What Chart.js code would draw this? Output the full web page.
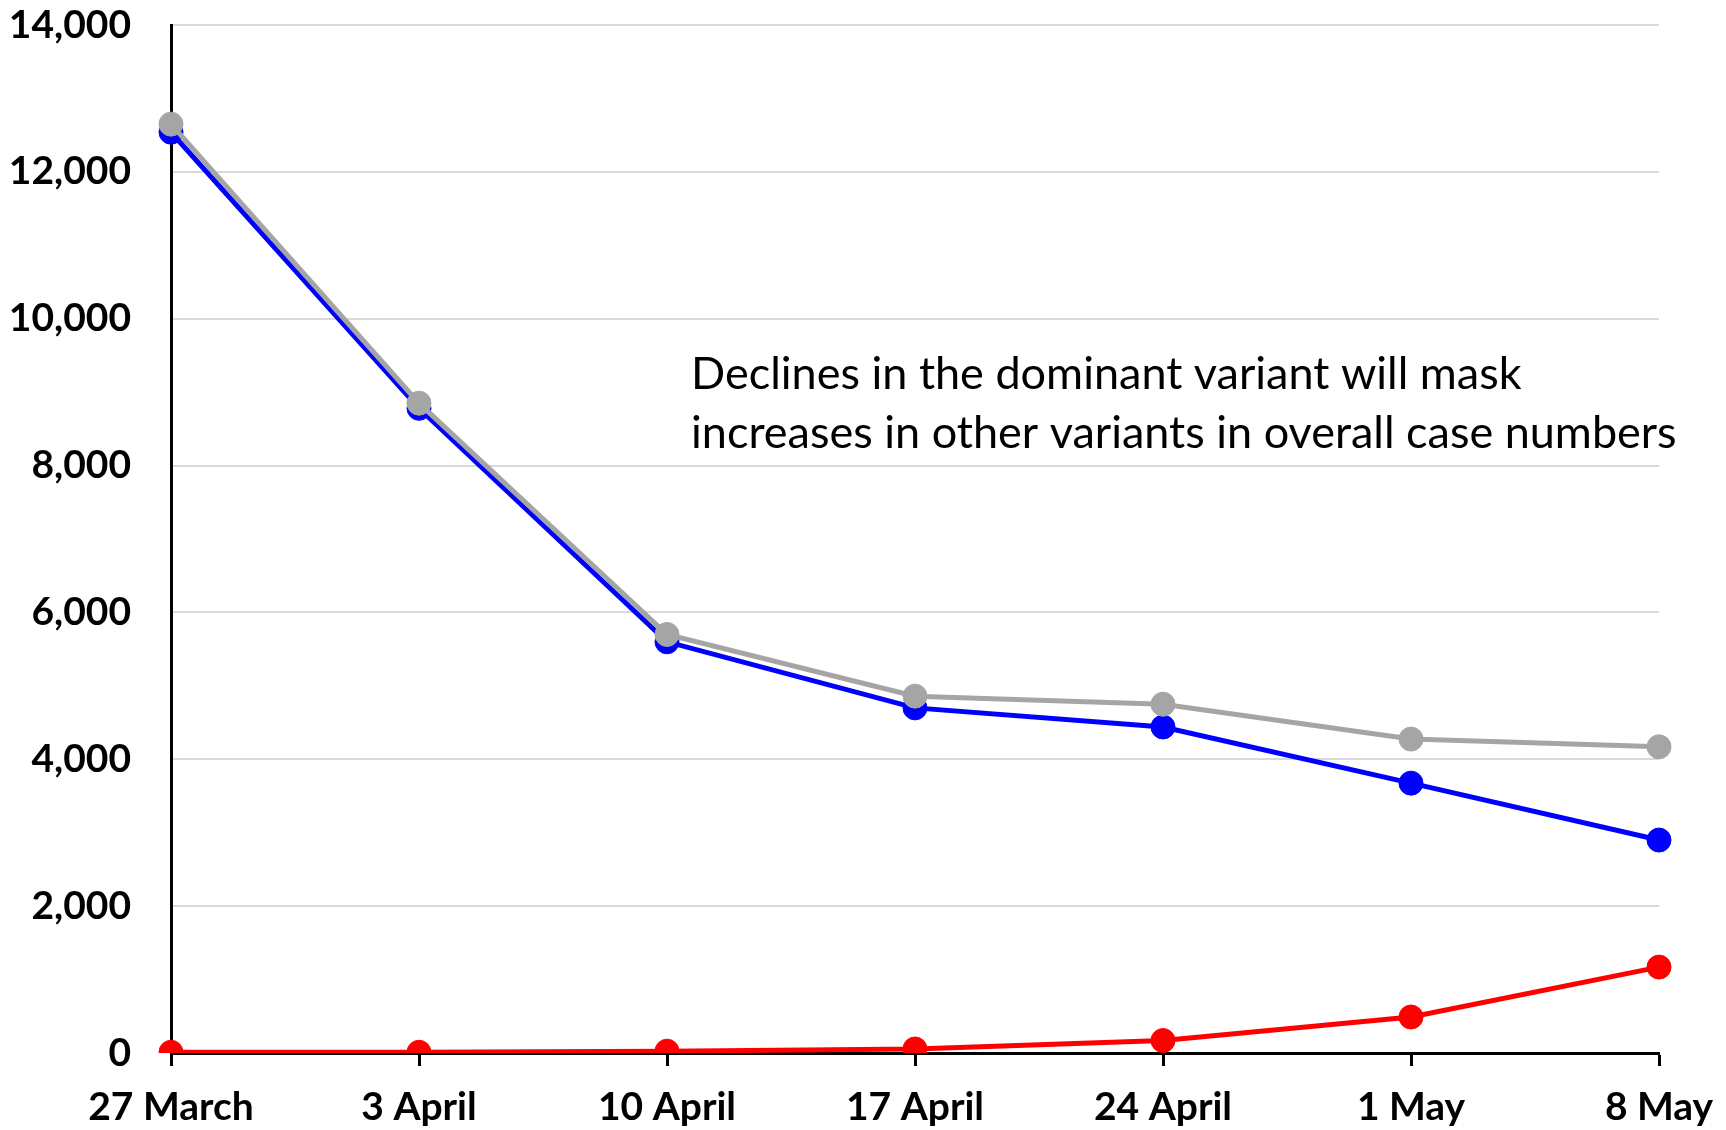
<html lang="en">
<head>
    <meta charset="UTF-8">
    <title>Variant case numbers</title>
    <script src="https://cdn.jsdelivr.net/npm/chart.js"></script>
    <style>
        body { margin: 0; background: #fff; }
        canvas { display: block; }
    </style>
</head>
<body>
    <canvas id="variantChart" width="1726" height="1130"></canvas>

    <script>
        // weekly dates
        const weeks = ['27 March', '3 April', '10 April', '17 April', '24 April', '1 May', '8 May'];
        // cases
        const totalCases = [12650, 8850, 5700, 4860, 4750, 4275, 4170];   // grey
        const dominantCases = [12540, 8780, 5600, 4700, 4440, 3675, 2900]; // blue
        const otherCases = [10, 10, 25, 55, 170, 490, 1170];               // red
        const yTicks = [0, 2000, 4000, 6000, 8000, 10000, 12000, 14000];

        const noteLines = [
            'Declines in the dominant variant will mask',
            'increases in other variants in overall case numbers'
        ];

        // the text note inside the plot
        const notePlugin = {
            id: 'note',
            afterDraw(chart) {
                const ctx = chart.ctx;
                ctx.save();
                ctx.font = '45px Lato';
                ctx.fillStyle = '#000';
                ctx.textBaseline = 'middle';
                ctx.fillText(noteLines[0], 691, 374);
                ctx.fillText(noteLines[1], 691, 433);
                ctx.restore();
            }
        };

        function series(data, color, order) {
            return {
                data: data,
                borderColor: color,
                backgroundColor: color,
                pointBackgroundColor: color,
                pointBorderColor: color,
                borderWidth: 5,
                pointRadius: 12,
                pointBorderWidth: 1,
                tension: 0,
                fill: false,
                order: order
            };
        }

        const ctx = document.getElementById('variantChart').getContext('2d');
        new Chart(ctx, {
            type: 'line',
            data: {
                labels: weeks,
                datasets: [
                    series(totalCases, '#a5a5a5', 0),
                    series(dominantCases, '#0000ff', 1),
                    series(otherCases, '#ff0000', 2)
                ]
            },
            options: {
                responsive: false,
                animation: false,
                layout: { padding: { top: 25, right: 67, bottom: 0, left: 0 } },
                plugins: {
                    legend: { display: false },
                    tooltip: { enabled: false }
                },
                scales: {
                    x: {
                        offset: false,
                        border: { color: '#000', width: 3 },
                        grid: {
                            drawOnChartArea: false,
                            drawTicks: true,
                            tickLength: 13,
                            tickWidth: 3,
                            tickColor: '#000'
                        },
                        ticks: {
                            color: '#000',
                            font: { family: 'Lato', weight: 'bold', size: 39 },
                            padding: 18,
                            maxRotation: 0,
                            autoSkip: false
                        },
                        afterFit(scale) {
                            scale.height = 77;
                            scale.paddingLeft = 0;
                            scale.paddingRight = 0;
                        }
                    },
                    y: {
                        min: 0,
                        max: 14000,
                        afterBuildTicks(scale) {
                            scale.ticks = yTicks.map(v => ({ value: v }));
                        },
                        border: { color: '#000', width: 3 },
                        grid: {
                            color: '#d9d9d9',
                            lineWidth: 2,
                            drawTicks: false
                        },
                        ticks: {
                            color: '#000',
                            font: { family: 'Lato', weight: 'bold', size: 39 },
                            padding: 40
                        },
                        afterFit(scale) {
                            scale.width = 171;
                            scale.paddingTop = 0;
                            scale.paddingBottom = 0;
                        }
                    }
                }
            },
            plugins: [notePlugin]
        });
    </script>
</body>
</html>
